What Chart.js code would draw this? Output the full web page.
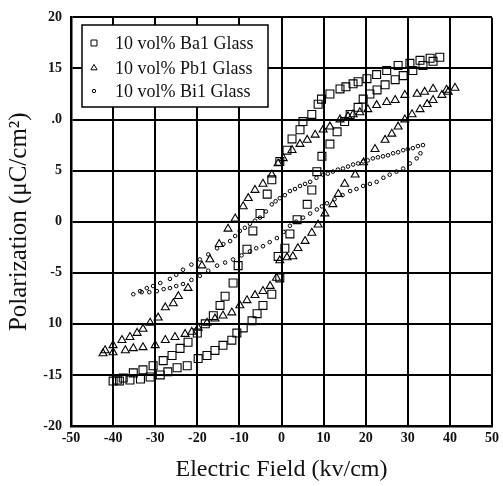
<!DOCTYPE html>
<html lang="en">
<head>
<meta charset="UTF-8">
<title>Polarization hysteresis</title>
<script src="https://cdn.jsdelivr.net/npm/chart.js"></script>
<style>
    body { margin: 0; padding: 0; background: #fff; }
    #wrap { width: 503px; height: 486px; }
</style>
</head>
<body>
<div id="wrap"><canvas id="loopChart"></canvas></div>
<script>
    // series labels
    const seriesNames = ['10 vol% Ba1 Glass', '10 vol% Pb1 Glass', '10 vol% Bi1 Glass'];

    // y tick labels as printed (scan shows ".0" and "10")
    const yTickLabels = { '-20': '-20', '-15': '-15', '-10': '10', '-5': '-5', '0': '0', '5': '5', '10': '.0', '15': '15', '20': '20' };

    // Ba1 glass (squares): upper branch then lower branch
    const baField = [
        37.6, 35.3, 32.9, 30.5, 27.7, 25.0, 22.6, 20.3, 18.2, 17.0, 15.3, 13.9, 11.5, 9.5, 8.7, 7.2, 5.1, 4.4, 2.5, 1.3,
        -0.4, -2.3, -3.4, -5.1, -6.8, -8.2, -10.3, -11.5, -13.4, -14.6, -16.2, -18.1, -20.0, -22.2, -24.1, -26.0, -28.1,
        -30.5, -32.9, -35.2, -37.6, -39.0,
        -40.0, -38.5, -36.0, -33.5, -31.2, -28.8, -27.0, -24.8, -22.4, -19.8, -17.7, -15.8, -13.9, -11.8, -10.6, -9.1,
        -7.0, -5.8, -4.4, -2.3, -0.4, -0.8, 0.8, 2.0, 3.7, 6.1, 7.2, 8.4, 9.6, 11.5, 13.2, 15.0, 16.3, 18.2, 19.4, 21.0,
        22.7, 24.6, 27.0, 28.9, 31.2, 33.6, 36.0
    ];
    const baPol = [
        16.1, 16.0, 15.8, 15.5, 15.3, 14.8, 14.4, 14.0, 13.7, 13.5, 13.2, 13.0, 12.5, 12.0, 11.5, 10.5, 9.8, 9.0, 8.1, 7.0,
        5.9, 4.1, 2.7, 0.8, -0.9, -2.7, -4.3, -6.0, -7.3, -8.2, -9.2, -10.0, -10.9, -11.8, -12.4, -13.1, -13.6,
        -14.1, -14.5, -14.8, -15.3, -15.5,
        -15.6, -15.6, -15.5, -15.4, -15.2, -15.0, -14.7, -14.3, -14.1, -13.4, -13.1, -12.6, -12.1, -11.6, -10.9, -10.4,
        -9.7, -9.0, -8.2, -7.1, -5.5, -3.4, -2.6, -1.2, 0.2, 1.7, 3.1, 4.9, 6.4, 7.6, 8.8, 9.8, 10.5, 11.2, 12.0, 12.5,
        12.9, 13.4, 13.9, 14.3, 14.8, 15.3, 15.7
    ];

    // Pb1 glass (triangles)
    const pbField = [
        41.2, 39.2, 36.0, 34.0, 32.2, 29.3, 27.0, 25.0, 22.6, 20.5, 18.6, 17.0, 15.8, 13.9, 11.5, 9.9, 8.0, 6.1, 4.4, 2.5,
        0.4, -0.8, -2.3, -4.4, -6.3, -7.9, -9.1, -11.0, -12.7, -14.8, -17.0, -18.9, -22.2, -24.5, -25.7, -27.6, -29.3,
        -31.2, -32.9, -34.3, -36.0, -37.9, -40.0, -41.9,
        -42.4, -40.0, -37.1, -35.2, -32.9, -30.0, -27.6, -25.3, -22.9, -21.3, -19.8, -17.7, -15.8, -13.9, -11.8, -9.9,
        -8.2, -6.3, -4.4, -2.7, -1.2, -0.4, 1.3, 2.7, 3.9, 5.6, 7.2, 8.7, 10.3, 12.2, 13.5, 15.0, 17.5, 19.5, 22.2, 24.6,
        26.2, 27.7, 29.3, 31.0, 32.9, 34.6, 36.0, 38.1, 39.6
    ];
    const pbPol = [
        13.1, 12.9, 13.0, 12.7, 12.5, 12.4, 11.9, 11.7, 11.4, 11.0, 10.7, 10.5, 10.3, 10.0, 9.3, 9.0, 8.5, 8.0, 7.6, 7.0,
        6.2, 5.7, 4.6, 3.7, 3.1, 2.3, 1.5, 0.3, -0.7, -2.2, -3.7, -4.3, -6.5, -7.3, -8.0, -8.4, -9.4,
        -9.9, -10.5, -10.9, -11.3, -11.6, -12.1, -12.6,
        -12.9, -12.8, -12.6, -12.4, -12.3, -12.1, -11.6, -11.3, -11.0, -10.8, -10.4, -9.9, -9.5, -9.2, -8.9, -8.2,
        -7.7, -7.2, -6.8, -6.3, -5.5, -3.8, -3.5, -3.4, -2.6, -1.9, -1.1, -0.3, 0.8, 1.7, 2.7, 3.7, 4.6, 5.8, 7.1, 8.0,
        8.6, 9.3, 10.0, 10.5, 11.0, 11.5, 11.9, 12.4, 12.7
    ];

    // Bi1 glass (small circles)
    const biField = [
        33.6, 32.4, 31.2, 30.0, 28.9, 27.7, 26.5, 25.3, 24.1, 22.9, 21.7, 20.5, 19.4, 18.2, 17.0, 15.8, 14.6, 13.4, 12.2,
        11.0, 9.9, 8.3, 6.8, 5.6, 4.4, 3.2, 2.0, 0.8, -0.4, -1.4, -2.3, -3.7, -5.1, -6.3, -7.5, -8.7, -9.9, -11.0, -12.2,
        -13.8, -15.3, -17.4, -19.4, -21.4, -23.4, -25.0, -26.5, -28.8, -30.5, -32.0, -33.6, -35.2,
        -33.2, -31.4, -29.6, -28.0, -26.5, -25.0, -23.4, -21.4, -19.4, -17.4, -15.3, -13.4, -11.5, -9.5, -7.5, -6.0,
        -4.4, -2.8, -1.1, 0.5, 2.0, 3.5, 5.1, 6.8, 8.4, 9.6, 10.8, 12.6, 14.5, 16.3, 17.8, 19.4, 21.0, 22.6, 24.2, 25.7,
        27.3, 28.9, 30.5, 32.1, 33.0
    ];
    const biPol = [
        7.5, 7.4, 7.2, 7.1, 7.0, 6.8, 6.7, 6.5, 6.4, 6.3, 6.2, 6.0, 5.9, 5.7, 5.6, 5.4, 5.2, 5.1, 4.9,
        4.7, 4.6, 4.3, 3.9, 3.7, 3.5, 3.2, 3.0, 2.6, 2.3, 2.0, 1.7, 1.0, 0.4, 0.1, -0.2, -0.6, -0.9, -1.4, -1.9,
        -2.2, -2.6, -3.2, -3.7, -4.2, -4.7, -5.2, -5.6, -6.0, -6.3, -6.5, -6.8, -7.1,
        -6.9, -6.9, -6.8, -6.6, -6.5, -6.3, -6.1, -5.7, -5.3, -4.8, -4.3, -4.0, -3.7, -3.3, -2.9, -2.6,
        -2.4, -2.0, -1.6, -1.0, -0.4, 0.0, 0.4, 0.8, 1.2, 1.5, 1.8, 2.2, 2.6, 3.0, 3.2, 3.5, 3.7, 3.9, 4.3, 4.6,
        4.9, 5.2, 5.7, 6.2, 6.7
    ];

    function toPoints(xs, ys) {
        return xs.map((x, i) => ({ x: x, y: ys[i] }));
    }

    const serif = "'Liberation Serif', 'Times New Roman', serif";

    // legend drawn inside the plot, top-left, like the original
    const insideLegend = {
        id: 'insideLegend',
        afterDraw(chart) {
            const ctx = chart.ctx;
            const bx = 82, by = 25, bw = 186, bh = 82;
            ctx.save();
            ctx.fillStyle = '#fff';
            ctx.fillRect(bx, by, bw, bh);
            ctx.strokeStyle = '#000';
            ctx.lineWidth = 1.5;
            ctx.strokeRect(bx, by, bw, bh);
            ctx.textBaseline = 'middle';
            const rows = [43, 68, 91];
            chart.data.datasets.forEach((ds, i) => {
                const r = ds.pointStyle === 'circle' ? 1.7 : (ds.pointStyle === 'rect' ? 4.2 : 3.6);
                ctx.strokeStyle = '#000';
                ctx.fillStyle = '#fff';
                ctx.lineWidth = 1;
                Chart.helpers.drawPoint(ctx, { pointStyle: ds.pointStyle, radius: r, borderWidth: 1 }, 94, rows[i]);
                ctx.fillStyle = '#111';
                ctx.font = '18px ' + serif;
                ctx.fillText(ds.label, 115, rows[i] + 1);
            });
            ctx.restore();
        }
    };

    new Chart(document.getElementById('loopChart'), {
        type: 'scatter',
        data: {
            datasets: [
                {
                    label: seriesNames[0],
                    data: toPoints(baField, baPol),
                    pointStyle: 'rect',
                    pointRadius: 5.6,
                    borderColor: '#000',
                    backgroundColor: 'rgba(255,255,255,0)',
                    borderWidth: 1.1
                },
                {
                    label: seriesNames[1],
                    data: toPoints(pbField, pbPol),
                    pointStyle: 'triangle',
                    pointRadius: 4.6,
                    borderColor: '#000',
                    backgroundColor: 'rgba(255,255,255,0)',
                    borderWidth: 1.1
                },
                {
                    label: seriesNames[2],
                    data: toPoints(biField, biPol),
                    pointStyle: 'circle',
                    pointRadius: 1.8,
                    borderColor: '#000',
                    backgroundColor: 'rgba(255,255,255,0)',
                    borderWidth: 1
                }
            ]
        },
        options: {
            responsive: true,
            maintainAspectRatio: false,
            animation: false,
            layout: { padding: { left: 0, right: 11, top: 15, bottom: 0 } },
            plugins: {
                legend: { display: false },
                tooltip: { enabled: false }
            },
            scales: {
                x: {
                    type: 'linear',
                    min: -50,
                    max: 50,
                    afterFit: (scale) => { scale.height = 60; },
                    ticks: {
                        stepSize: 10,
                        color: '#111',
                        padding: 4,
                        maxRotation: 0,
                        font: { family: serif, size: 14, weight: 'bold' }
                    },
                    grid: { color: '#000', lineWidth: 2, drawTicks: false },
                    border: { color: '#000', width: 2.5 },
                    title: {
                        display: true,
                        text: 'Electric Field (kv/cm)',
                        color: '#111',
                        padding: { top: 0, bottom: 2 },
                        font: { family: serif, size: 24 }
                    }
                },
                y: {
                    type: 'linear',
                    min: -20,
                    max: 20,
                    afterFit: (scale) => { scale.width = 71; },
                    ticks: {
                        stepSize: 5,
                        color: '#111',
                        padding: 9,
                        font: { family: serif, size: 14, weight: 'bold' },
                        callback: (v) => yTickLabels[String(v)]
                    },
                    grid: { color: '#000', lineWidth: 2, drawTicks: false },
                    border: { color: '#000', width: 2.5 },
                    title: {
                        display: true,
                        text: 'Polarization (\u03bcC/cm\u00b2)',
                        color: '#111',
                        padding: { top: 4, bottom: 0 },
                        font: { family: serif, size: 25 }
                    }
                }
            }
        },
        plugins: [insideLegend]
    });
</script>
</body>
</html>
